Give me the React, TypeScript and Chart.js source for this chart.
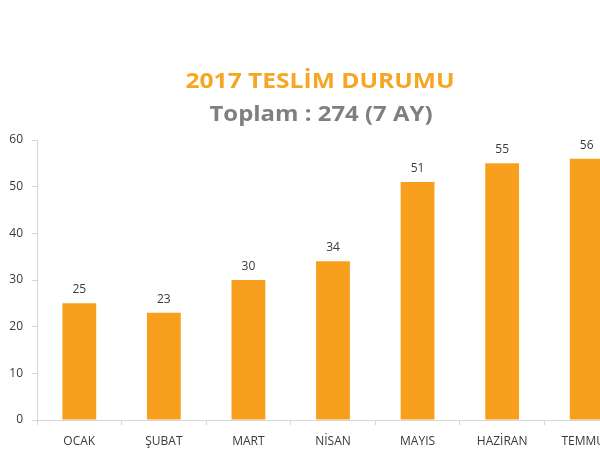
import React, { useEffect, useRef } from 'react';
import { Chart, registerables } from 'chart.js';

Chart.register(...registerables);

const months = ['OCAK', 'ŞUBAT', 'MART', 'NİSAN', 'MAYIS', 'HAZİRAN', 'TEMMUZ'];
const deliveries = [25, 23, 30, 34, 51, 55, 56];
const yTicks = [0, 10, 20, 30, 40, 50, 60];

const titleText = '2017 TESLİM DURUMU';
const subtitleText = 'Toplam : 274 (7 AY)';

const barColor = '#F8A01E';
const axisColor = '#d6d6d6';
const textColor = '#3a3a3a';

// heading text in the picture is a bit wider than Open Sans, so stretch it
const drawWide = (ctx: CanvasRenderingContext2D, text: string, cx: number, y: number, width: number) => {
  const w = ctx.measureText(text).width;
  ctx.save();
  ctx.translate(cx, y);
  ctx.scale(width / w, 1);
  ctx.fillText(text, 0, 0);
  ctx.restore();
};

// draws the two heading lines and the value over each bar
const labelsPlugin = {
  id: 'labelsPlugin',
  afterDatasetsDraw(chart: Chart) {
    const ctx = chart.ctx;
    ctx.save();
    ctx.textAlign = 'center';
    ctx.textBaseline = 'alphabetic';
    ctx.font = 'bold 21px "Open Sans"';
    ctx.fillStyle = '#F5A623';
    drawWide(ctx, titleText, 320, 88, 269);
    ctx.font = 'bold 22px "Open Sans"';
    ctx.fillStyle = '#7f7f7f';
    drawWide(ctx, subtitleText, 321, 121, 223);

    const meta = chart.getDatasetMeta(0);
    ctx.font = '12px "Open Sans"';
    ctx.fillStyle = textColor;
    meta.data.forEach((bar: any, i: number) => {
      ctx.fillText(String(deliveries[i]), bar.x, bar.y - 10);
    });
    ctx.restore();
  },
};

const DeliveryChart: React.FC = () => {
  const canvasRef = useRef<HTMLCanvasElement>(null);
  const chartRef = useRef<Chart | null>(null);

  useEffect(() => {
    if (!canvasRef.current) return;
    if (chartRef.current) chartRef.current.destroy();

    chartRef.current = new Chart(canvasRef.current, {
      type: 'bar',
      data: {
        labels: months,
        datasets: [
          {
            data: deliveries,
            backgroundColor: barColor,
            borderWidth: 0,
            barPercentage: 0.4,
            categoryPercentage: 1,
          },
        ],
      },
      options: {
        responsive: false,
        animation: false,
        layout: { padding: { top: 140, right: 3, left: 0, bottom: 0 } },
        plugins: {
          legend: { display: false },
          tooltip: { enabled: false },
        },
        scales: {
          x: {
            grid: {
              drawOnChartArea: false,
              drawTicks: true,
              tickLength: 5,
              color: axisColor,
            },
            border: { display: true, color: axisColor },
            ticks: {
              color: textColor,
              font: { family: 'Open Sans', size: 12 },
              padding: 9,
              maxRotation: 0,
              autoSkip: false,
            },
            afterFit: (scale: any) => {
              scale.height = 30;
            },
          },
          y: {
            min: 0,
            max: 60,
            afterBuildTicks: (scale: any) => {
              scale.ticks = yTicks.map(v => ({ value: v }));
            },
            grid: {
              drawOnChartArea: false,
              drawTicks: true,
              tickLength: 5,
              color: axisColor,
            },
            border: { display: true, color: axisColor },
            ticks: {
              color: textColor,
              font: { family: 'Open Sans', size: 12 },
              padding: 9,
            },
            afterFit: (scale: any) => {
              scale.width = 37;
            },
          },
        },
      },
      plugins: [labelsPlugin],
    });

    return () => {
      if (chartRef.current) {
        chartRef.current.destroy();
        chartRef.current = null;
      }
    };
  }, []);

  return <canvas ref={canvasRef} width={632} height={450} style={{ display: 'block' }} />;
};

export default function App() {
  return (
    <div
      style={{
        position: 'fixed',
        left: 0,
        top: 0,
        width: 600,
        height: 450,
        overflow: 'hidden',
        background: '#fff',
      }}
    >
      <DeliveryChart />
    </div>
  );
}
